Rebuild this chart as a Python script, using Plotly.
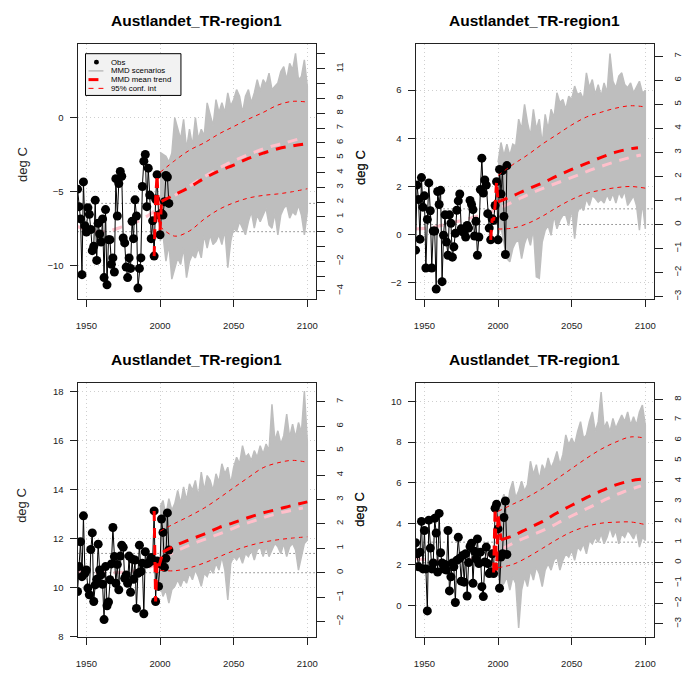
import plotly.graph_objects as go

W, H = 684, 674
FONT = "Liberation Sans, Arial, Helvetica, sans-serif"

title_text = "Austlandet_TR-region1"
y_label = "deg C"
legend_labels = ["Obs", "MMD scenarios", "MMD mean trend", "95% conf. int"]

obs_start = 1944
scen_years = list(range(2000, 2101, 2))
pink_years = [1944, 1955, 1965, 1975, 1985, 1995, 2005, 2015, 2025, 2035,
              2045, 2055, 2065, 2075, 2085, 2097]
conf_years = list(range(2000, 2101, 10))
x_ticks = [1950, 2000, 2050, 2100]

# ---------------- panel 1 ----------------
p1_obs = [-4.83, -6.01, -6.84, -10.6, -4.34, -7.3, -7.73, -6.08, -6.53, -7.55,
          -8.98, -8.69, -5.57, -9.64, -7.13, -7.86, -8.4, -6.84, -10.8, -6.21,
          -11.29, -8.24, -8.24, -9.9, -9.47, -10.42, -4.12, -6.64, -4.45, -3.63,
          -3.96, -8.13, -8.46, -10.09, -10.8, -9.47, -10.18, -7.0, -8.17, -5.55,
          -6.64, -11.51, -10.18, -9.47, -4.65, -2.94, -2.49, -6.01, -3.41, -5.23,
          -8.17, -6.97, -9.35, -5.5, -3.85, -6.57, -7.91, -6.46, -6.57, -5.68,
          -3.9, -4.01, -5.79]
p1_scen_hi = [-2.34, -2.45, -2.6, -3.0, -2.4, 0.0, -0.78, -1.45, -0.11, -2.12,
              -0.78, -1.89, 0.0, -1.45, -0.78, -1.22, 1.0, 0.11, -0.56, 1.22,
              0.33, 1.0, 0.33, 1.67, 0.78, 1.22, 1.89, 1.45, 0.33, 1.45,
              1.89, 1.0, 1.67, 2.56, 1.78, 2.56, 2.23, 3.0, 1.89, 2.12,
              2.34, 3.12, 3.45, 2.56, 3.67, 3.23, 4.34, 2.56, 2.78, 3.9,
              2.12]
p1_scen_lo = [-8.35, -7.91, -9.69, -8.57, -10.9, -10.13, -9.47, -9.91, -8.8, -10.8,
              -9.69, -9.24, -9.47, -8.8, -9.47, -7.91, -8.8, -7.91, -8.57, -8.35,
              -7.91, -8.57, -7.57, -10.13, -8.35, -7.46, -7.68, -7.02, -7.46, -7.91,
              -7.02, -6.35, -7.46, -6.57, -7.02, -6.57, -6.12, -7.24, -7.46, -6.46,
              -7.91, -6.57, -6.12, -5.9, -6.79, -6.35, -6.57, -5.9, -6.57, -7.91,
              -6.35]
p1_pink = [-7.35, -7.7, -7.65, -7.35, -7.0, -6.4, -5.6, -4.95, -4.3, -3.7,
           -3.15, -2.7, -2.3, -1.95, -1.7, -1.35]
p1_red_hist_years = [1996, 1997, 1998, 1999, 2000]
p1_red_hist = [-9.35, -5.5, -3.85, -6.57, -7.6]
p1_trend_years = [2001, 2010, 2020, 2030, 2040, 2050, 2060, 2070, 2080, 2090, 2100]
p1_trend = [-5.65, -5.2, -4.7, -4.1, -3.6, -3.2, -2.75, -2.4, -2.1, -1.9, -1.75]
p1_conf_hi = [-3.7, -2.9, -2.2, -1.7, -1.1, -0.6, -0.1, 0.35, 0.85, 1.1, 1.05]
p1_conf_lo = [-7.35, -8.0, -7.65, -6.85, -6.2, -5.75, -5.43, -5.25, -5.15, -5.0, -4.8]
p1_ref = [-5.79, -7.7]
p1_right_ticks = list(range(-4, 13))
p1_right_labels = ["\u22124", "", "\u22122", "", "0", "1", "2", "3", "4", "5",
                   "6", "7", "8", "9", "", "11", ""]

# ---------------- panel 2 ----------------
p2_obs = [-0.66, 2.05, 1.45, -0.2, 2.36, 1.13, 1.6, -1.4, 0.62, 2.14,
          0.98, -1.4, 0.14, 0.14, -2.28, 1.78, 1.24, 1.83, -1.97, -0.04,
          0.81, -0.32, -0.87, 0.81, 0.46, -0.95, -0.52, 0.04, 1.0, 1.39,
          1.68, 0.23, 0.1, 0.07, -0.11, 0.37, 0.26, 1.41, 1.24, 1.03,
          -0.07, 0.54, -0.87, -0.11, 1.86, 3.17, 1.72, 2.26, 2.05, 0.86,
          0.26, -0.23, 0.65, 0.58, 1.2, 2.19, -0.23, 2.7, 1.68, 2.65,
          0.74, -0.84, 2.86]
p2_scen_hi = [2.99, 3.82, 3.27, 3.75, 3.27, 3.75, 3.68, 4.79, 4.37, 5.41,
              4.65, 4.1, 5.2, 4.37, 4.79, 3.75, 4.99, 4.37, 5.2, 4.86,
              5.89, 5.48, 5.61, 5.2, 5.75, 5.61, 6.17, 5.82, 5.89, 5.61,
              6.72, 6.1, 6.44, 5.82, 6.23, 5.75, 6.3, 5.89, 7.52, 6.37,
              6.1, 6.58, 6.72, 6.23, 6.1, 6.3, 5.89, 6.1, 6.37, 5.89,
              5.96]
p2_scen_lo = [-0.04, 0.3, -0.32, -1.01, -1.14, -0.59, -0.32, -0.25, -1.01, -0.39,
              -0.04, -0.46, 0.23, -1.77, -1.83, -0.32, 0.17, 0.37, -0.04, 0.79,
              0.23, 0.58, 0.79, 0.79, 0.37, 1.06, -0.18, 0.92, 1.2, 0.99,
              1.48, 1.2, 1.61, 1.5, 1.34, 1.45, 1.3, 1.65, 1.4, 1.7,
              1.3, 1.75, 1.5, 1.8, 1.2, 1.4, 1.6, 1.2, 0.17, 1.34,
              0.23]
p2_pink = [0.22, 0.28, 0.42, 0.57, 0.74, 0.92, 1.2, 1.5, 1.78, 2.02,
           2.25, 2.48, 2.72, 2.93, 3.12, 3.3]
p2_red_hist_years = [1995, 1996, 1997, 1998, 1999]
p2_red_hist = [-0.23, 0.65, 0.58, 1.2, 2.19]
p2_trend_years = [2000, 2010, 2020, 2030, 2040, 2050, 2060, 2070, 2080, 2090, 2095]
p2_trend = [1.35, 1.6, 1.88, 2.13, 2.43, 2.7, 2.95, 3.2, 3.42, 3.56, 3.6]
p2_conf_hi = [2.45, 2.9, 3.3, 3.75, 4.15, 4.55, 4.88, 5.08, 5.25, 5.35, 5.3]
p2_conf_lo = [0.22, 0.26, 0.45, 0.75, 1.12, 1.45, 1.7, 1.84, 1.94, 1.99, 1.92]
p2_ref = [1.06, 0.41]
p2_right_ticks = list(range(-3, 8))
p2_right_labels = ["\u22123", "\u22122", "\u22121", "0", "1", "2", "3", "4", "5", "6", "7"]

# ---------------- panel 3 ----------------
p3_obs = [9.83, 10.85, 11.87, 10.44, 12.93, 10.58, 10.71, 9.97, 9.7, 11.55,
          12.23, 9.42, 10.1, 10.33, 11.77, 10.71, 10.51, 10.13, 8.68, 10.85,
          9.25, 9.4, 10.31, 10.96, 12.45, 11.26, 10.17, 10.94, 9.9, 11.28,
          11.73, 11.64, 10.37, 10.51, 10.17, 11.28, 9.8, 11.16, 10.33, 11.12,
          9.14, 10.58, 11.73, 10.65, 10.99, 8.92, 11.46, 10.96, 10.99, 11.05,
          11.22, 11.09, 13.13, 9.42, 11.08, 10.04, 10.96, 12.8, 12.25, 10.82,
          11.19, 13.05, 11.53]
p3_scen_hi = [13.29, 13.56, 12.95, 13.63, 13.16, 13.43, 13.97, 13.43, 14.11, 13.56,
              14.24, 13.97, 14.38, 13.7, 14.72, 13.97, 14.58, 14.38, 13.97, 14.65,
              14.31, 15.06, 14.65, 14.92, 14.24, 14.92, 15.33, 15.06, 15.8, 15.33,
              15.46, 15.19, 15.6, 15.33, 15.8, 15.46, 15.87, 15.6, 17.5, 16.0,
              16.41, 15.87, 16.21, 17.09, 16.14, 16.68, 16.14, 16.75, 16.34, 18.04,
              16.0]
p3_scen_lo = [10.17, 9.63, 9.9, 9.36, 9.9, 10.04, 10.31, 10.04, 10.37, 10.17,
              10.58, 10.31, 10.71, 10.44, 10.04, 10.58, 10.44, 10.78, 10.58, 10.99,
              10.71, 11.26, 10.71, 9.49, 10.99, 11.26, 11.12, 11.32, 10.99, 11.39,
              11.26, 11.53, 11.12, 11.53, 11.66, 11.26, 11.66, 11.26, 11.53, 11.8,
              11.66, 11.39, 11.8, 11.26, 11.66, 11.8, 11.53, 10.71, 11.26, 11.8,
              11.93]
p3_pink = [10.65, 10.6, 10.6, 10.62, 10.7, 10.88, 11.3, 11.6, 11.85, 12.07,
           12.3, 12.55, 12.75, 12.95, 13.1, 13.25]
p3_red_hist_years = [1996, 1997, 1998, 1999]
p3_red_hist = [13.13, 9.42, 11.0, 10.8]
p3_trend_years = [2002, 2010, 2020, 2030, 2040, 2050, 2060, 2070, 2080, 2090, 2100]
p3_trend = [11.45, 11.7, 11.95, 12.18, 12.45, 12.65, 12.86, 13.05, 13.2, 13.36, 13.5]
p3_conf_hi = [12.3, 12.62, 12.92, 13.25, 13.65, 14.08, 14.5, 14.9, 15.1, 15.2, 15.12]
p3_conf_lo = [10.7, 10.68, 10.8, 11.0, 11.25, 11.5, 11.7, 11.85, 11.95, 12.02, 12.07]
p3_ref = [11.39, 10.6]
p3_right_ticks = list(range(-2, 8))
p3_right_labels = ["\u22122", "\u22121", "0", "1", "2", "3", "4", "5", "6", "7"]

# ---------------- panel 4 ----------------
p4_obs = [3.06, 2.52, 1.88, 2.6, 4.11, 1.78, 3.66, 1.78, -0.28, 4.17,
          2.8, 1.78, 2.07, 4.26, 3.54, 1.63, 4.5, 2.57, 2.07, 1.78,
          2.0, 1.72, 3.66, 0.7, 1.39, 2.07, 1.88, 0.13, 2.2, 3.33,
          2.3, 1.18, 2.44, 1.13, 2.52, 0.45, 2.09, 2.88, 3.04, 1.07,
          2.64, 2.28, 3.25, 2.04, 2.6, 0.91, 0.42, 2.12, 2.85, 2.04,
          1.55, 1.63, 2.52, 1.55, 4.76, 4.95, 3.74, 0.83, 2.36, 2.52,
          4.3, 5.11, 2.49]
p4_scen_hi = [4.63, 5.0, 5.44, 4.63, 5.6, 6.08, 5.28, 5.6, 6.08, 5.6,
              5.92, 7.06, 6.41, 6.89, 6.17, 6.89, 6.57, 7.22, 6.73, 7.06,
              7.54, 6.89, 7.38, 8.35, 7.86, 8.19, 7.86, 8.51, 9.0, 8.19,
              8.35, 9.0, 9.48, 8.51, 9.0, 10.45, 8.67, 9.0, 8.51, 9.16,
              8.67, 9.0, 9.32, 9.0, 9.48, 8.83, 9.24, 8.83, 9.48, 9.81,
              8.83]
p4_scen_lo = [1.72, 0.91, 1.07, 1.39, 0.74, 1.39, 1.07, -1.12, 0.74, 1.39,
              0.91, 1.72, 1.23, 1.88, 1.55, 0.91, 1.72, 2.04, 1.72, 2.2,
              2.36, 1.72, 2.2, 2.52, 2.36, 2.69, 2.2, 2.85, 2.69, 3.01,
              2.52, 3.17, 3.01, 3.33, 3.09, 3.5, 3.01, 3.33, 3.82, 3.33,
              3.66, 3.01, 3.5, 3.33, 3.66, 3.5, 3.25, 3.66, 2.85, 3.33,
              3.17]
p4_pink = [2.28, 2.2, 2.15, 2.18, 2.3, 2.5, 2.85, 3.2, 3.5, 3.82,
           4.2, 4.55, 4.9, 5.25, 5.55, 5.85]
p4_red_hist_years = [1997, 1998, 1999, 2000]
p4_red_hist = [1.6, 4.76, 1.7, 4.5]
p4_trend_years = [2002, 2010, 2020, 2030, 2040, 2050, 2060, 2070, 2080, 2090, 2097]
p4_trend = [3.2, 3.4, 3.75, 4.1, 4.52, 4.9, 5.27, 5.6, 5.9, 6.1, 6.17]
p4_conf_hi = [4.6, 4.95, 5.3, 5.72, 6.2, 6.7, 7.2, 7.65, 8.0, 8.25, 8.19]
p4_conf_lo = [1.84, 2.0, 2.35, 2.78, 3.22, 3.6, 3.86, 4.02, 4.07, 4.08, 3.95]
p4_ref = [3.09, 2.09]
p4_right_ticks = list(range(-3, 9))
p4_right_labels = ["\u22123", "\u22122", "\u22121", "0", "1", "2", "3", "4", "5", "6", "7", "8"]

# ---------------- layout geometry (pixels) ----------------
col_px = [(76, 316), (416, 656)]
row_px = [(44, 301), (385, 641)]


def fx(x):
    return x / W


def fy(y):
    return 1 - y / H


panels = [
    dict(obs=p1_obs, hi=p1_scen_hi, lo=p1_scen_lo, pink=p1_pink,
         rhy=p1_red_hist_years, rh=p1_red_hist, ty=p1_trend_years, tr=p1_trend,
         chi=p1_conf_hi, clo=p1_conf_lo, ref=p1_ref,
         rt=p1_right_ticks, rl=p1_right_labels,
         col=0, row=0, yr=[-12.26, 4.99], dtick=5,
         lab_left=165, lab_right=168),
    dict(obs=p2_obs, hi=p2_scen_hi, lo=p2_scen_lo, pink=p2_pink,
         rhy=p2_red_hist_years, rh=p2_red_hist, ty=p2_trend_years, tr=p2_trend,
         chi=p2_conf_hi, clo=p2_conf_lo, ref=p2_ref,
         rt=p2_right_ticks, rl=p2_right_labels,
         col=1, row=0, yr=[-2.70, 7.93], dtick=2,
         lab_left=168, lab_right=None),
    dict(obs=p3_obs, hi=p3_scen_hi, lo=p3_scen_lo, pink=p3_pink,
         rhy=p3_red_hist_years, rh=p3_red_hist, ty=p3_trend_years, tr=p3_trend,
         chi=p3_conf_hi, clo=p3_conf_lo, ref=p3_ref,
         rt=p3_right_ticks, rl=p3_right_labels,
         col=0, row=1, yr=[7.96, 18.38], dtick=2,
         lab_left=508, lab_right=512),
    dict(obs=p4_obs, hi=p4_scen_hi, lo=p4_scen_lo, pink=p4_pink,
         rhy=p4_red_hist_years, rh=p4_red_hist, ty=p4_trend_years, tr=p4_trend,
         chi=p4_conf_hi, clo=p4_conf_lo, ref=p4_ref,
         rt=p4_right_ticks, rl=p4_right_labels,
         col=1, row=1, yr=[-1.57, 10.91], dtick=2,
         lab_left=512, lab_right=None),
]

GRAY = "#bebebe"
PINK = "#ffc0cb"
RED = "#ff0000"
TXT = "#222222"
AX = "#222222"

fig = go.Figure()
layout = dict(width=W, height=H, margin=dict(l=0, r=0, t=0, b=0),
              paper_bgcolor="white", plot_bgcolor="white", showlegend=False,
              font=dict(family=FONT, color=TXT))
shapes = []
annotations = []

for i, p in enumerate(panels, start=1):
    xname = "x" if i == 1 else f"x{i}"
    yl_n = 2 * i - 1
    yr_n = 2 * i
    ylname = "y" if yl_n == 1 else f"y{yl_n}"
    yrname = f"y{yr_n}"
    xkey = "xaxis" if i == 1 else f"xaxis{i}"
    ylkey = "yaxis" if yl_n == 1 else f"yaxis{yl_n}"
    yrkey = f"yaxis{yr_n}"

    c0, c1 = col_px[p["col"]]
    r0, r1 = row_px[p["row"]]
    xdom = [fx(c0), fx(c1)]
    ydom = [fy(r1), fy(r0)]
    base = p["ref"][1]

    obs_years = list(range(obs_start, obs_start + len(p["obs"])))

    # reference dotted lines (drawn first, under everything else)
    for v in p["ref"]:
        fig.add_trace(go.Scatter(
            x=[1944, 2106], y=[v, v], mode="lines", hoverinfo="skip",
            line=dict(color="#444444", width=1, dash="1px,3px"),
            xaxis=xname, yaxis=ylname))
    # scenario envelope
    fig.add_trace(go.Scatter(
        x=scen_years + scen_years[::-1], y=p["hi"] + p["lo"][::-1],
        fill="toself", fillcolor=GRAY, mode="lines",
        line=dict(color=GRAY, width=1.5), hoverinfo="skip",
        xaxis=xname, yaxis=ylname))
    # obs trend (pink)
    fig.add_trace(go.Scatter(
        x=pink_years, y=p["pink"], mode="lines",
        line=dict(color=PINK, width=3, dash="10px,8px", shape="spline"),
        xaxis=xname, yaxis=ylname))
    # observations
    fig.add_trace(go.Scatter(
        x=obs_years, y=p["obs"], mode="lines+markers",
        line=dict(color="black", width=1),
        marker=dict(color="black", size=9),
        xaxis=xname, yaxis=ylname))
    # red historical segment
    fig.add_trace(go.Scatter(
        x=p["rhy"] + [p["ty"][0]], y=p["rh"] + [p["tr"][0]], mode="lines",
        line=dict(color=RED, width=3, dash="10px,7px"),
        xaxis=xname, yaxis=ylname))
    # MMD mean trend
    fig.add_trace(go.Scatter(
        x=p["ty"], y=p["tr"], mode="lines",
        line=dict(color=RED, width=3, dash="10px,8px", shape="spline"),
        xaxis=xname, yaxis=ylname))
    # confidence interval
    for arr in (p["chi"], p["clo"]):
        fig.add_trace(go.Scatter(
            x=conf_years, y=arr, mode="lines",
            line=dict(color=RED, width=1, dash="4px,4px", shape="spline"),
            xaxis=xname, yaxis=ylname))
    # placeholder on right axis
    fig.add_trace(go.Scatter(x=[None], y=[None], mode="lines",
                             xaxis=xname, yaxis=yrname, hoverinfo="skip"))

    layout[xkey] = dict(
        domain=xdom, range=[1944, 2106], anchor=ylname,
        tickmode="array", tickvals=x_ticks, ticks="outside", ticklen=7,
        tickcolor=AX, showline=True, linecolor=AX, linewidth=1, mirror=True,
        showgrid=True, gridcolor="#cfcfcf", griddash="1px,3px", gridwidth=1,
        zeroline=False, tickfont=dict(size=9.5, color=TXT),
        ticklabelstandoff=10)
    layout[ylkey] = dict(
        domain=ydom, range=p["yr"], anchor=xname, dtick=p["dtick"],
        ticks="outside", ticklen=7, tickcolor=AX,
        showline=True, linecolor=AX, linewidth=1, mirror=True,
        showgrid=True, gridcolor="#cfcfcf", griddash="1px,3px", gridwidth=1,
        zeroline=False, tickfont=dict(size=9.5, color=TXT),
        ticklabelstandoff=4)
    layout[yrkey] = dict(
        overlaying=ylname, side="right", anchor=xname,
        range=[p["yr"][0] - base, p["yr"][1] - base],
        tickmode="array", tickvals=p["rt"], ticktext=p["rl"],
        tickangle=-90, ticks="outside", ticklen=8, tickcolor=AX,
        showline=True, linecolor=AX, linewidth=1, showgrid=False,
        zeroline=False, tickfont=dict(size=9.5, color=TXT),
        ticklabelstandoff=6)

    # title
    annotations.append(dict(
        x=fx((c0 + c1) / 2), y=fy(r0 - 23), xref="paper", yref="paper",
        text=title_text, showarrow=False, xanchor="center", yanchor="middle",
        font=dict(size=15.5, weight="bold", color="black", family=FONT)))
    # y labels
    annotations.append(dict(
        x=fx(c0 - 56), y=fy(p["lab_left"]), xref="paper", yref="paper",
        text=y_label, showarrow=False, textangle=-90,
        xanchor="center", yanchor="middle",
        font=dict(size=13, color=TXT, family=FONT)))
    if p["lab_right"] is not None:
        annotations.append(dict(
            x=fx(c1 + 44), y=fy(p["lab_right"]), xref="paper", yref="paper",
            text=y_label, showarrow=False, textangle=-90,
            xanchor="center", yanchor="middle",
            font=dict(size=13, color=TXT, family=FONT)))

# ---------------- legend (panel 1) ----------------
leg_rows = [62.5, 71.3, 80.1, 88.9]
shapes.append(dict(type="rect", xref="paper", yref="paper",
                   x0=fx(84), x1=fx(180), y0=fy(96), y1=fy(54),
                   fillcolor="#f2f2f2", line=dict(color="black", width=1),
                   layer="above"))
shapes.append(dict(type="circle", xref="paper", yref="paper",
                   x0=fx(92.5), x1=fx(97.5), y0=fy(leg_rows[0] + 2.5),
                   y1=fy(leg_rows[0] - 2.5),
                   fillcolor="black", line=dict(color="black", width=0),
                   layer="above"))
shapes.append(dict(type="line", xref="paper", yref="paper",
                   x0=fx(87), x1=fx(102), y0=fy(leg_rows[1]), y1=fy(leg_rows[1]),
                   line=dict(color=GRAY, width=1.5), layer="above"))
shapes.append(dict(type="line", xref="paper", yref="paper",
                   x0=fx(87), x1=fx(97), y0=fy(leg_rows[2]), y1=fy(leg_rows[2]),
                   line=dict(color=RED, width=3), layer="above"))
shapes.append(dict(type="line", xref="paper", yref="paper",
                   x0=fx(87), x1=fx(102), y0=fy(leg_rows[3]), y1=fy(leg_rows[3]),
                   line=dict(color=RED, width=1, dash="5px,5px"), layer="above"))
for k, lab in enumerate(legend_labels):
    annotations.append(dict(
        x=fx(108), y=fy(leg_rows[k]), xref="paper", yref="paper",
        text=lab, showarrow=False, xanchor="left", yanchor="middle",
        font=dict(size=7.8, color="black", family=FONT)))

layout["shapes"] = shapes
layout["annotations"] = annotations
fig.update_layout(**layout)
fig.write_html("out.html")
